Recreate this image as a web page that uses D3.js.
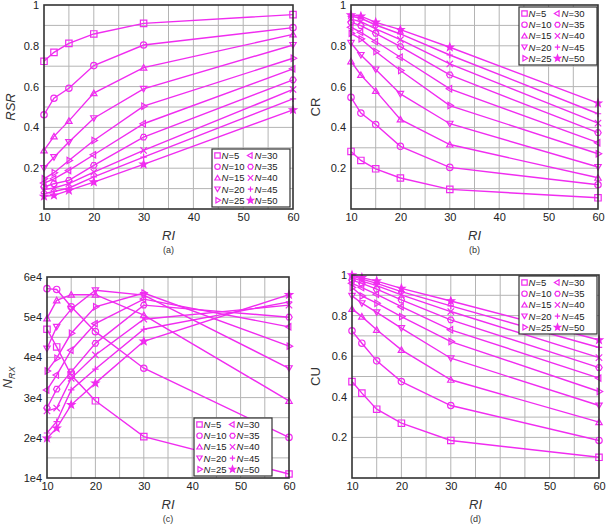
<!DOCTYPE html>
<html>
<head>
<meta charset="utf-8">
<script src="https://cdn.jsdelivr.net/npm/d3@7"></script>
<style>
body { margin: 0; background: #fff; }
text { font-family: "Liberation Sans", Arial, sans-serif; }
</style>
</head>
<body>
<div id="chart-area"></div>
<script>
// RI values where every curve is sampled
var riValues = [10, 12, 15, 20, 30, 60];
var nValues = [5, 10, 15, 20, 25, 30, 35, 40, 45, 50];
var xTicks = [10, 20, 30, 40, 50, 60];
var unitTicks = [0.2, 0.4, 0.6, 0.8, 1];
var unitTickLabels = ["0.2", "0.4", "0.6", "0.8", "1"];
var nrxTicks = [10000, 20000, 30000, 40000, 50000, 60000];
var nrxTickLabels = ["1e4", "2e4", "3e4", "4e4", "5e4", "6e4"];

// (a) RSR, one row per N
var rsr = [
    [0.724, 0.768, 0.812, 0.858, 0.910, 0.953],
    [0.462, 0.543, 0.592, 0.703, 0.804, 0.889],
    [0.287, 0.356, 0.432, 0.568, 0.693, 0.856],
    [0.200, 0.254, 0.328, 0.445, 0.589, 0.804],
    [0.148, 0.178, 0.238, 0.336, 0.504, 0.739],
    [0.127, 0.148, 0.189, 0.266, 0.418, 0.687],
    [0.108, 0.124, 0.140, 0.214, 0.352, 0.633],
    [0.095, 0.103, 0.124, 0.181, 0.287, 0.586],
    [0.075, 0.086, 0.103, 0.157, 0.254, 0.540],
    [0.062, 0.067, 0.091, 0.132, 0.219, 0.486]
];
// (b) CR
var cr = [
    [0.282, 0.238, 0.197, 0.152, 0.096, 0.055],
    [0.547, 0.470, 0.414, 0.307, 0.204, 0.119],
    [0.724, 0.657, 0.579, 0.439, 0.316, 0.153],
    [0.814, 0.755, 0.684, 0.564, 0.418, 0.206],
    [0.861, 0.834, 0.772, 0.679, 0.507, 0.271],
    [0.891, 0.866, 0.821, 0.744, 0.589, 0.325],
    [0.915, 0.899, 0.861, 0.796, 0.657, 0.374],
    [0.931, 0.918, 0.883, 0.830, 0.711, 0.421],
    [0.945, 0.935, 0.902, 0.858, 0.755, 0.467],
    [0.951, 0.945, 0.915, 0.879, 0.793, 0.519]
];
// (c) N_RX
var nrx = [
    [47000, 42600, 35600, 29200, 20300, 11000],
    [57100, 56900, 52600, 46400, 37300, 20100],
    [49700, 54200, 55600, 55600, 50500, 29200],
    [42200, 47600, 52000, 56700, 55500, 37300],
    [36600, 39800, 46000, 52600, 56000, 42800],
    [31900, 35600, 41800, 48400, 54500, 47600],
    [27400, 32100, 36400, 43500, 53000, 50000],
    [26700, 27400, 34800, 40600, 49500, 53000],
    [21200, 24000, 31900, 37100, 47000, 53800],
    [19900, 22400, 28200, 33600, 44000, 55600]
];
// (d) CU
var cu = [
    [0.475, 0.418, 0.339, 0.270, 0.185, 0.102],
    [0.725, 0.664, 0.577, 0.475, 0.357, 0.185],
    [0.833, 0.795, 0.730, 0.631, 0.484, 0.275],
    [0.897, 0.861, 0.816, 0.738, 0.590, 0.357],
    [0.938, 0.897, 0.861, 0.795, 0.672, 0.426],
    [0.959, 0.938, 0.905, 0.844, 0.730, 0.492],
    [0.975, 0.959, 0.930, 0.877, 0.779, 0.544],
    [0.987, 0.970, 0.948, 0.902, 0.820, 0.593],
    [0.995, 0.980, 0.959, 0.918, 0.848, 0.643],
    [1.000, 0.987, 0.970, 0.934, 0.872, 0.680]
];

var color = "#f02cf0";
var markers = ["square", "circle", "up", "down", "right", "left", "hex", "x", "plus", "star"];

var svg = d3.select("#chart-area").append("svg")
    .attr("width", 608)
    .attr("height", 531);

function markerPath(type, r) {
    var p = d3.path();
    if (type == "square") {
        p.rect(-r, -r, 2 * r, 2 * r);
    } else if (type == "circle") {
        p.moveTo(r, 0);
        p.arc(0, 0, r, 0, 2 * Math.PI);
    } else if (["up", "down", "right", "left"].indexOf(type) >= 0) {
        var rot = {up: 0, right: 90, down: 180, left: 270}[type] * Math.PI / 180;
        for (var i = 0; i < 3; i++) {
            var a = rot - Math.PI / 2 + i * 2 * Math.PI / 3;
            var px = 1.15 * r * Math.cos(a), py = 1.15 * r * Math.sin(a) + (type == "up" ? 0.2 * r : type == "down" ? -0.2 * r : 0);
            if (i == 0) p.moveTo(px, py); else p.lineTo(px, py);
        }
        p.closePath();
    } else if (type == "hex") {
        for (var i = 0; i < 6; i++) {
            var a = i * Math.PI / 3;
            var px = r * Math.cos(a), py = r * Math.sin(a);
            if (i == 0) p.moveTo(px, py); else p.lineTo(px, py);
        }
        p.closePath();
    } else if (type == "x") {
        p.moveTo(-r, -r); p.lineTo(r, r);
        p.moveTo(-r, r); p.lineTo(r, -r);
    } else if (type == "plus") {
        p.moveTo(-r, 0); p.lineTo(r, 0);
        p.moveTo(0, -r); p.lineTo(0, r);
    } else if (type == "star") {
        for (var i = 0; i < 10; i++) {
            var a = -Math.PI / 2 + i * Math.PI / 5;
            var rr = i % 2 == 0 ? r * 1.2 : r * 0.5;
            if (i == 0) p.moveTo(rr * Math.cos(a), rr * Math.sin(a));
            else p.lineTo(rr * Math.cos(a), rr * Math.sin(a));
        }
        p.closePath();
    }
    return p.toString();
}

function drawMarker(g, type, cx, cy, r) {
    g.append("path")
        .attr("d", markerPath(type, r || 3.2))
        .attr("transform", "translate(" + cx + "," + cy + ")")
        .attr("fill", type == "star" ? color : "none")
        .attr("stroke", color)
        .attr("stroke-width", 1.2);
}

function drawPanel(cfg) {
    var g = svg.append("g");
    var x = d3.scaleLinear().domain([10, 60]).range([cfg.left, cfg.right]);
    var y = d3.scaleLinear().domain(cfg.yDomain).range([cfg.bottom, cfg.top]);

    // grid
    g.selectAll(".vgrid").data(d3.range(15, 60, 5)).enter().append("line")
        .attr("x1", (d) => x(d)).attr("x2", (d) => x(d))
        .attr("y1", cfg.top).attr("y2", cfg.bottom)
        .attr("stroke", "#b4b4b4").attr("stroke-width", 1);
    g.selectAll(".hgrid").data(cfg.yGrid).enter().append("line")
        .attr("x1", cfg.left).attr("x2", cfg.right)
        .attr("y1", (d) => y(d)).attr("y2", (d) => y(d))
        .attr("stroke", "#b4b4b4").attr("stroke-width", 1);

    // axes (ticks drawn as labels only)
    var xAxis = d3.axisBottom(x).tickValues(xTicks).tickSize(0).tickPadding(4);
    var xg = g.append("g")
        .attr("transform", "translate(0," + cfg.bottom + ")")
        .call(xAxis);
    var yAxis = d3.axisLeft(y).tickValues(cfg.yTicks).tickSize(0).tickPadding(5)
        .tickFormat((d, i) => cfg.yTickLabels[i]);
    var yg = g.append("g")
        .attr("transform", "translate(" + cfg.left + ",0)")
        .call(yAxis);
    [xg, yg].forEach((a) => {
        a.select(".domain").remove();
        a.selectAll("text").attr("font-size", "11px").attr("fill", "#222")
            .attr("font-family", "Liberation Sans, Arial, sans-serif");
    });

    // curves
    var line = d3.line().x((d, i) => x(riValues[i])).y((d) => y(d));
    cfg.data.forEach((row, k) => {
        g.append("path")
            .attr("d", line(row))
            .attr("fill", "none")
            .attr("stroke", color)
            .attr("stroke-width", 1.4);
        row.forEach((v, i) => drawMarker(g, markers[k], x(riValues[i]), y(v)));
    });

    // frame
    g.append("rect")
        .attr("x", cfg.left).attr("y", cfg.top)
        .attr("width", cfg.right - cfg.left).attr("height", cfg.bottom - cfg.top)
        .attr("fill", "none").attr("stroke", "#333").attr("stroke-width", 1.6);

    // x label and caption
    var cxm = (cfg.left + cfg.right) / 2;
    g.append("text").attr("x", cxm).attr("y", cfg.bottom + 31)
        .attr("text-anchor", "middle").attr("font-size", "13px")
        .attr("font-style", "italic").attr("fill", "#333").text("RI");
    g.append("text").attr("x", cxm).attr("y", cfg.bottom + 44)
        .attr("text-anchor", "middle").attr("font-size", "9px")
        .attr("fill", "#333").text(cfg.caption);

    // y label
    var yl = g.append("text")
        .attr("transform", "translate(" + cfg.yLabelX + "," + ((cfg.top + cfg.bottom) / 2) + ") rotate(-90)")
        .attr("text-anchor", "middle").attr("font-size", "13px").attr("fill", "#333");
    yl.append("tspan").attr("font-style", cfg.yItalic ? "italic" : "normal").text(cfg.yLabel);
    if (cfg.ySub) {
        yl.append("tspan").attr("font-style", "italic").attr("font-size", "9px")
            .attr("dy", 3).text(cfg.ySub);
    }

    // legend
    var lg = g.append("g").attr("transform", "translate(" + cfg.legend[0] + "," + cfg.legend[1] + ")");
    lg.append("rect").attr("width", 78).attr("height", 58)
        .attr("fill", "#fff").attr("stroke", "#333").attr("stroke-width", 1.2);
    nValues.forEach((n, k) => {
        var col = Math.floor(k / 5), row = k % 5;
        var mx = 5.5 + col * 33, my = 6.5 + row * 11.2;
        drawMarker(lg, markers[k], mx, my, 2.7);
        var t = lg.append("text").attr("x", mx + 4).attr("y", my + 3.5)
            .attr("font-size", "9.5px").attr("fill", "#222");
        t.append("tspan").attr("font-style", "italic").text("N");
        t.append("tspan").text("=" + n);
    });
}

drawPanel({
    left: 44, right: 293, top: 5, bottom: 209,
    yDomain: [0, 1], yTicks: unitTicks, yTickLabels: unitTickLabels,
    yGrid: d3.range(1, 10).map((d) => d / 10),
    data: rsr, caption: "(a)", yLabel: "RSR", yItalic: true, yLabelX: 15,
    legend: [212, 149]
});
drawPanel({
    left: 351, right: 598, top: 5, bottom: 209,
    yDomain: [0, 1], yTicks: unitTicks, yTickLabels: unitTickLabels,
    yGrid: d3.range(1, 10).map((d) => d / 10),
    data: cr, caption: "(b)", yLabel: "CR", yItalic: false, yLabelX: 320,
    legend: [519, 7]
});
drawPanel({
    left: 47, right: 289, top: 277, bottom: 478,
    yDomain: [10000, 60000], yTicks: nrxTicks, yTickLabels: nrxTickLabels,
    yGrid: d3.range(15000, 60000, 5000),
    data: nrx, caption: "(c)", yLabel: "N", ySub: "RX", yItalic: true, yLabelX: 12,
    legend: [194, 418]
});
drawPanel({
    left: 352, right: 599, top: 275, bottom: 478,
    yDomain: [0, 1], yTicks: unitTicks, yTickLabels: unitTickLabels,
    yGrid: d3.range(1, 10).map((d) => d / 10),
    data: cu, caption: "(d)", yLabel: "CU", yItalic: false, yLabelX: 320,
    legend: [519, 276]
});
</script>
</body>
</html>
